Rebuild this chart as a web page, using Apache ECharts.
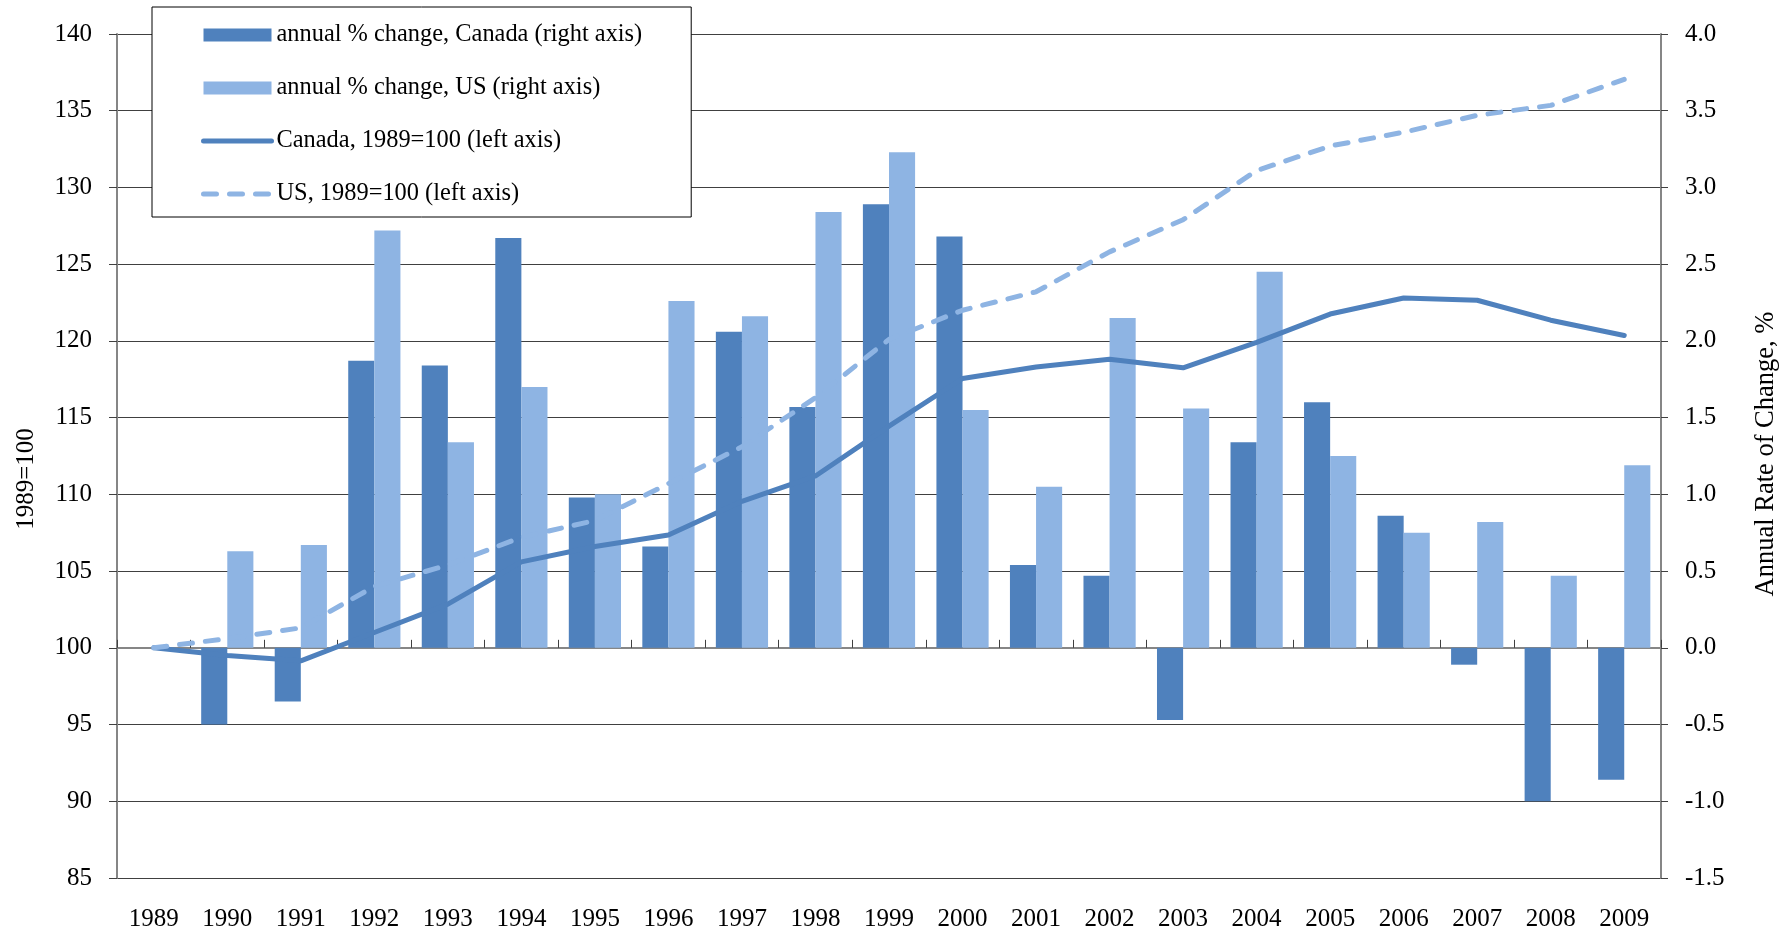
<!DOCTYPE html>
<html><head><meta charset="utf-8">
<script src="https://cdn.jsdelivr.net/npm/echarts@6/dist/echarts.min.js"></script>
<style>html,body{margin:0;padding:0;background:#fff}#c{width:1790px;height:934px}</style>
</head><body><div id="c"></div>
<script>
const years = ['1989','1990','1991','1992','1993','1994','1995','1996','1997','1998','1999','2000','2001','2002','2003','2004','2005','2006','2007','2008','2009'];
const canadaChange = [null, -0.50, -0.35, 1.87, 1.84, 2.67, 0.98, 0.66, 2.06, 1.57, 2.89, 2.68, 0.54, 0.47, -0.47, 1.34, 1.60, 0.86, -0.11, -1.00, -0.86];
const usChange = [null, 0.63, 0.67, 2.72, 1.34, 1.70, 1.00, 2.26, 2.16, 2.84, 3.23, 1.55, 1.05, 2.15, 1.56, 2.45, 1.25, 0.75, 0.82, 0.47, 1.19];
const canadaIndex = [100, 99.5, 99.15, 101.0, 102.85, 105.6, 106.6, 107.35, 109.55, 111.2, 114.45, 117.55, 118.3, 118.8, 118.25, 119.9, 121.75, 122.8, 122.65, 121.35, 120.35];
const usIndex = [100, 100.6, 101.3, 104.0, 105.4, 107.2, 108.3, 110.7, 113.1, 116.3, 120.1, 122.0, 123.2, 125.8, 127.9, 131.1, 132.7, 133.6, 134.7, 135.35, 137.05];
const seriesNames = ['annual % change, Canada (right axis)', 'annual % change, US (right axis)', 'Canada, 1989=100 (left axis)', 'US, 1989=100 (left axis)'];
const leftAxisTitle = '1989=100';
const rightAxisTitle = 'Annual Rate of Change, %';

const FONT = '"Liberation Serif", "Times New Roman", serif';
const DARK = '#4F81BD', LIGHT = '#8EB4E3';
const LW = 5;
const chart = echarts.init(document.getElementById('c'));
chart.setOption({
  animation: false,
  backgroundColor: '#fff',
  textStyle: { fontFamily: FONT },
  grid: { left: 117, right: 129, top: 34, bottom: 56, containLabel: false },
  legend: {
    orient: 'vertical', left: 152, top: 7,
    padding: [14, 49, 9, 49], itemGap: 25, itemWidth: 68, itemHeight: 13,
    backgroundColor: '#fff', borderColor: '#000', borderWidth: 1,
    textStyle: { fontSize: 24.4, fontFamily: FONT, color: '#000', lineHeight: 28 },
    data: [
      { name: seriesNames[0], icon: 'rect' },
      { name: seriesNames[1], icon: 'rect' },
      { name: seriesNames[2], itemStyle: { opacity: 0 }, lineStyle: { width: LW, color: DARK, cap: 'round' } },
      { name: seriesNames[3], itemStyle: { opacity: 0 }, lineStyle: { width: LW, color: LIGHT, type: [13, 13], cap: 'round' } }
    ]
  },
  xAxis: {
    type: 'category', data: years, boundaryGap: true,
    axisLine: { lineStyle: { color: '#868686', width: 2 } },
    axisTick: { show: true, inside: true, length: 8, lineStyle: { color: '#404040' } },
    axisLabel: { fontSize: 25, color: '#000', fontFamily: FONT, margin: 29 },
    splitLine: { show: false }
  },
  yAxis: [
    {
      type: 'value', position: 'left', min: 85, max: 140, interval: 5,
      axisLine: { show: true, lineStyle: { color: '#868686', width: 2 } },
      axisTick: { show: true, length: 8, lineStyle: { color: '#404040' } },
      axisLabel: { fontSize: 25, color: '#000', fontFamily: FONT, margin: 25 },
      splitLine: { show: true, lineStyle: { color: '#404040', width: 1 } }
    },
    {
      type: 'value', position: 'right', min: -1.5, max: 4.0, interval: 0.5,
      axisLine: { show: true, lineStyle: { color: '#868686', width: 2 } },
      axisTick: { show: true, length: 7, lineStyle: { color: '#404040' } },
      axisLabel: { fontSize: 25, color: '#000', fontFamily: FONT, margin: 24, formatter: v => v.toFixed(1) },
      splitLine: { show: false }
    }
  ],
  graphic: [
    { type: 'text', x: 26, y: 479, rotation: Math.PI / 2,
      style: { text: leftAxisTitle, font: '25px ' + FONT, fill: '#000', textAlign: 'center', textVerticalAlign: 'middle' } },
    { type: 'text', x: 1766, y: 454, rotation: Math.PI / 2,
      style: { text: rightAxisTitle, font: '26.5px ' + FONT, fill: '#000', textAlign: 'center', textVerticalAlign: 'middle' } }
  ],
  series: [
    { name: seriesNames[0], type: 'bar', yAxisIndex: 1, data: canadaChange, barGap: '0%', barCategoryGap: '29%',
      itemStyle: { color: DARK } },
    { name: seriesNames[1], type: 'bar', yAxisIndex: 1, data: usChange, barGap: '0%', barCategoryGap: '29%',
      itemStyle: { color: LIGHT } },
    { name: seriesNames[2], type: 'line', yAxisIndex: 0, data: canadaIndex, symbol: 'none', showSymbol: false,
      itemStyle: { color: DARK },
      lineStyle: { color: DARK, width: LW, cap: 'round', join: 'round' } },
    { name: seriesNames[3], type: 'line', yAxisIndex: 0, data: usIndex, symbol: 'none', showSymbol: false,
      itemStyle: { color: LIGHT },
      lineStyle: { color: LIGHT, width: LW, type: [13, 13], cap: 'round', join: 'round' } }
  ]
});
</script>
</body></html>
